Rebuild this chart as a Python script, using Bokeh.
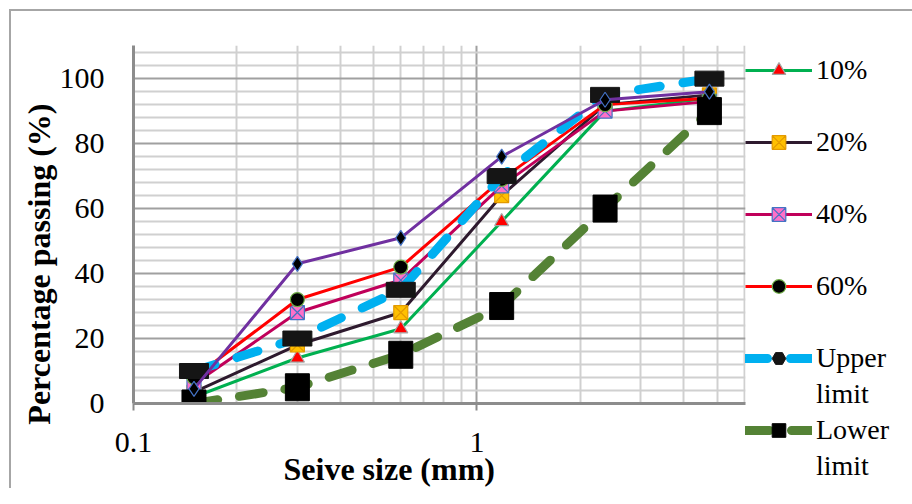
from bokeh.plotting import figure
from bokeh.models import (Legend, LegendItem, FixedTicker, Title, ColumnDataSource,
                          CustomJSTickFormatter)
from bokeh.embed import file_html
from bokeh.resources import INLINE

# ---- data ----
sieve_mm = [0.15, 0.3, 0.6, 1.18, 2.36, 4.75]
pass_10 = [2, 14, 23, 56, 90, 94]
pass_20 = [3.5, 18, 28, 64, 92, 95]
pass_40 = [6, 28, 38, 67, 90, 93]
pass_60 = [8, 32, 42, 69, 92, 94]
pass_other = [4.5, 43, 51, 76, 93.5, 96]
upper_limit = [10, 20, 35, 70, 95, 100]
lower_limit = [0, 5, 15, 30, 60, 90]

x_ticks = [0.1, 1]
x_minor = [0.2, 0.3, 0.4, 0.5, 0.6, 0.7, 0.8, 0.9, 2, 3, 4, 5, 6]
y_ticks = [0, 20, 40, 60, 80, 100]
y_minor = [v for v in range(4, 110, 4) if v % 20 != 0]

SERIF = "Liberation Serif"

p = figure(x_axis_type="log", x_range=(0.1, 6.05), y_range=(0, 110.2),
           frame_width=612, frame_height=358,
           min_border_left=133, min_border_top=45, min_border_bottom=85,
           min_border_right=0,
           output_backend="svg", toolbar_location=None)
p.outline_line_color = None
p.background_fill_color = "white"
p.border_fill_alpha = 0
p.styles = {
    "background": "linear-gradient(#A6A6A6, #A6A6A6) 9px 9px / 2px 100% no-repeat, "
                  "linear-gradient(#A6A6A6, #A6A6A6) 9px 9px / 100% 2px no-repeat, white",
}

# axes
p.xaxis.ticker = FixedTicker(ticks=x_ticks, minor_ticks=x_minor)
p.yaxis.ticker = FixedTicker(ticks=y_ticks, minor_ticks=y_minor)
p.xaxis.formatter = CustomJSTickFormatter(code="return tick < 1 ? tick.toFixed(1) : tick.toFixed(0);")
for ax in (p.xaxis[0], p.yaxis[0]):
    ax.axis_line_color = "#8C8C8C"
    ax.axis_line_width = 3
    ax.minor_tick_line_color = None
    ax.major_tick_in = 0
    ax.major_label_text_font = SERIF
    ax.major_label_text_font_size = "30px"
    ax.major_label_text_color = "black"
p.xaxis.major_tick_out = 7
p.xaxis.major_tick_line_color = "#8C8C8C"
p.xaxis.major_tick_line_width = 2
p.xaxis.major_label_standoff = 22
p.yaxis.major_tick_out = 0
p.yaxis.major_label_standoff = 25

p.xgrid.grid_line_color = "#A0A0A0"
p.xgrid.grid_line_width = 2
p.xgrid.minor_grid_line_color = "#D0D0D0"
p.xgrid.minor_grid_line_width = 2
p.ygrid.grid_line_color = "#A0A0A0"
p.ygrid.grid_line_width = 2
p.ygrid.minor_grid_line_color = "#D0D0D0"
p.ygrid.minor_grid_line_width = 2

# series
def series(vals, color, marker, fill, edge, size=14):
    ln = p.line(sieve_mm, vals, line_color=color, line_width=3)
    sc = p.scatter(sieve_mm, vals, marker=marker, size=size, fill_color=fill,
                   line_color=edge, line_width=1.2)
    return [ln, sc]

r10 = series(pass_10, "#00B050", "triangle", "#FF0000", "#A5A5A5")
r20 = series(pass_20, "#2E1A2E", "square_x", "#FFC000", "#E39A00")
r40 = series(pass_40, "#C0005A", "square_x", "#FF70C8", "#4472C4")
r60 = series(pass_60, "#FF0000", "circle", "#000000", "#70AD47")

up_line = p.line(sieve_mm, upper_limit, line_color="#00B0F0", line_width=9,
                 line_dash="22 23", line_cap="round")
up_key = p.scatter(sieve_mm, upper_limit, marker="hex", size=12,
                   fill_color="#151515", line_color="#151515")
p.rect(sieve_mm, upper_limit, width=29, height=15, width_units="screen",
       height_units="screen", fill_color="#151515", line_color="#151515")
lo_line = p.line(sieve_mm, lower_limit, line_color="#548235", line_width=9,
                 line_dash="24 22", line_cap="round")
lo_key = p.scatter(sieve_mm, lower_limit, marker="square", size=14,
                   fill_color="black", line_color="black")
p.rect(sieve_mm, lower_limit, width=24, height=27, width_units="screen",
       height_units="screen", fill_color="black", line_color="black")

ro = series(pass_other, "#7030A0", "diamond", "#000000", "#4472C4", size=15)

# invisible renderer used for the second-line / spacer legend rows
blank = p.scatter(x="x", y="y", source=ColumnDataSource(data=dict(x=[], y=[])),
                  fill_alpha=0, line_alpha=0)

legend = Legend(items=[
    LegendItem(label="10%", renderers=r10),
    LegendItem(label=" ", renderers=[blank]),
    LegendItem(label="20%", renderers=r20),
    LegendItem(label=" ", renderers=[blank]),
    LegendItem(label="40%", renderers=r40),
    LegendItem(label=" ", renderers=[blank]),
    LegendItem(label="60%", renderers=r60),
    LegendItem(label=" ", renderers=[blank]),
    LegendItem(label="Upper", renderers=[up_line, up_key]),
    LegendItem(label="limit", renderers=[blank]),
    LegendItem(label="Lower", renderers=[lo_line, lo_key]),
    LegendItem(label="limit", renderers=[blank]),
], location="top_left")
legend.title = " "
legend.title_text_font_size = "6px"
legend.title_standoff = 2
legend.label_text_font = SERIF
legend.label_text_font_size = "28px"
legend.label_text_color = "black"
legend.glyph_width = 67
legend.glyph_height = 34
legend.label_height = 34
legend.label_standoff = 4
legend.spacing = 2
legend.padding = 5
legend.margin = 0
legend.border_line_color = None
legend.background_fill_alpha = 0
p.add_layout(legend, "right")

# axis titles (offset along the axis like the reference)
p.add_layout(Title(text="Seive size (mm)", text_font=SERIF, text_font_size="32px",
                   text_font_style="bold", align="left", offset=150, standoff=-12,
                   text_color="black"), "below")
p.add_layout(Title(text="Percentage passing (%)", text_font=SERIF, text_font_size="32px",
                   text_font_style="bold", align="right", offset=58, standoff=0,
                   text_color="black"), "left")

open("out.html", "w").write(file_html(p, INLINE))
